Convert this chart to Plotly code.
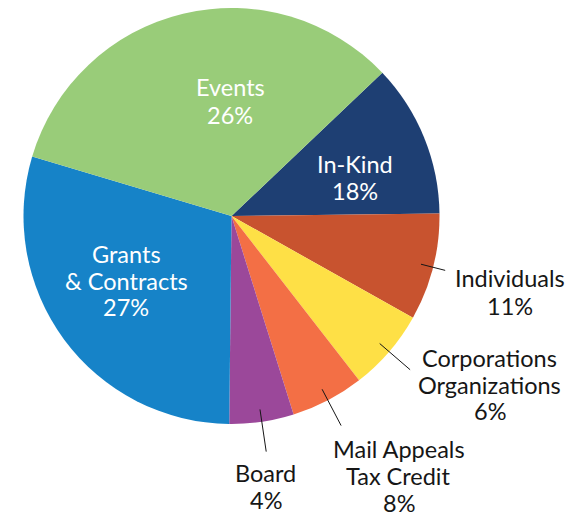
import math
import plotly.graph_objects as go

# ---- data ----
categories = ["In-Kind", "Individuals", "Corporations Organizations",
              "Mail Appeals Tax Credit", "Board", "Grants & Contracts", "Events"]
label_lines = [["In-Kind"], ["Individuals"], ["Corporations", "Organizations"],
               ["Mail Appeals", "Tax Credit"], ["Board"], ["Grants", "& Contracts"], ["Events"]]
label_pct = ["18%", "11%", "6%", "8%", "4%", "27%", "26%"]
# angular share of each slice as drawn (percent of the circle)
slice_share = [11.89, 8.33, 6.36, 5.68, 5.00, 29.44, 33.29]
colors = ["#1E3F73", "#C8532F", "#FEE046", "#F36F45", "#9B489A", "#1683C8", "#99CC79"]

W, H = 584, 516
CX, CY, R = 231.5, 216, 208
START = 46.47      # degrees clockwise from 12 o'clock
FS = 23.5
FONT = "Lato"

def px(x):
    return x / W

def py(y):
    return 1 - y / H

fig = go.Figure(go.Pie(
    labels=categories, values=slice_share, sort=False, direction="clockwise",
    rotation=START, marker=dict(colors=colors, line=dict(width=0)),
    textinfo="none", hoverinfo="skip", showlegend=False,
    domain=dict(x=[px(CX - R), px(CX + R)], y=[py(CY + R), py(CY - R)]),
))

# text block placement: centre x and baseline of each line (window pixels)
placement = {
    "In-Kind": (355, [172.3, 199.2], True),
    "Individuals": (510, [286.7, 314.5], False),
    "Corporations Organizations": (489.5, [366.7, 393.5, 420], False),
    "Mail Appeals Tax Credit": (398.7, [457.3, 484.7, 511.7], False),
    "Board": (265.8, [481.7, 508.3], False),
    "Grants & Contracts": (126, [262.3, 289.3, 316], True),
    "Events": (230, [96, 123.3], True),
}
leader_end = {
    "Individuals": 1.06,
    "Corporations Organizations": 1.133,
    "Mail Appeals Tax Credit": 1.137,
    "Board": 1.145,
}

total = sum(slice_share)
cum = 0.0
annotations, shapes = [], []
for cat, lines, pct, share in zip(categories, label_lines, label_pct, slice_share):
    mid = START + (cum + share / 2) / total * 360
    cum += share
    x, bases, inside = placement[cat]
    for line, base in zip(lines + [pct], bases):
        annotations.append(dict(
            x=px(x), y=py(base - 1.05 * FS), xref="paper", yref="paper",
            text=line, showarrow=False, xanchor="center", yanchor="top",
            font=dict(family=FONT, size=FS, color="white" if inside else "#161616"),
        ))
    if cat in leader_end:
        a = math.radians(mid)
        r0, r1 = 0.94 * R, leader_end[cat] * R
        shapes.append(dict(
            type="line", xref="paper", yref="paper",
            x0=px(CX + r0 * math.sin(a)), y0=py(CY - r0 * math.cos(a)),
            x1=px(CX + r1 * math.sin(a)), y1=py(CY - r1 * math.cos(a)),
            line=dict(color="#161616", width=1),
        ))

fig.update_layout(
    width=W, height=H, margin=dict(l=0, r=0, t=0, b=0),
    paper_bgcolor="white", plot_bgcolor="white",
    annotations=annotations, shapes=shapes,
)
fig.write_html("out.html", config={"displayModeBar": False},
               post_script="document.body.style.margin='0px';"
                           "document.body.style.overflow='hidden';")
